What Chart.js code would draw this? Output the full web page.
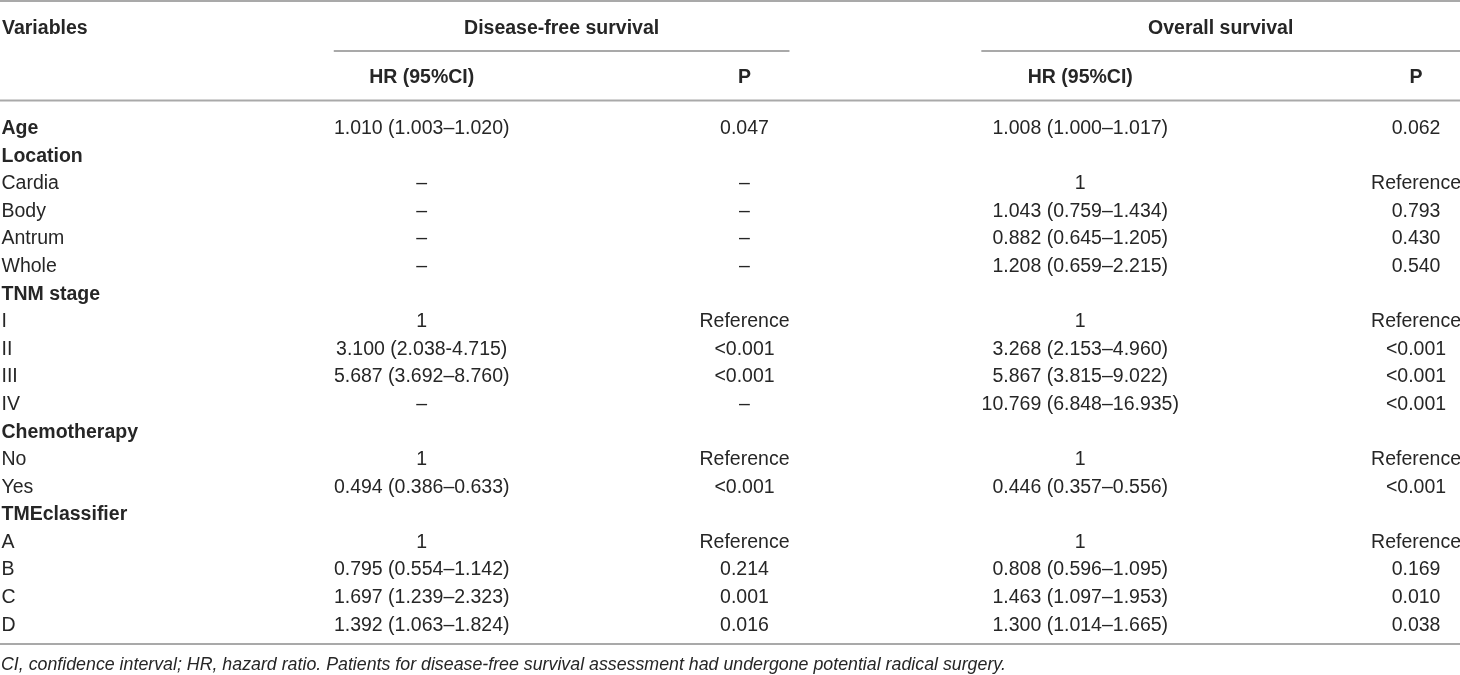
<!DOCTYPE html>
<html>
<head>
<meta charset="utf-8">
<title>Cox regression – TMEclassifier</title>
<script src="https://cdn.jsdelivr.net/npm/chart.js"></script>
<style>
    html, body { margin: 0; padding: 0; background: #fff; }
    #wrap { width: 1460px; height: 675px; position: relative; }
</style>
</head>
<body>
<div id="wrap"><canvas id="tableChart"></canvas></div>
<script>
    // table content
    const rowLabels = ['Age', 'Location', 'Cardia', 'Body', 'Antrum', 'Whole', 'TNM stage', 'I', 'II', 'III', 'IV',
        'Chemotherapy', 'No', 'Yes', 'TMEclassifier', 'A', 'B', 'C', 'D'];
    const boldRows = ['Age', 'Location', 'TNM stage', 'Chemotherapy', 'TMEclassifier'];

    const dfsHR = ['1.010 (1.003–1.020)', '', '–', '–', '–', '–', '', '1', '3.100 (2.038-4.715)', '5.687 (3.692–8.760)', '–',
        '', '1', '0.494 (0.386–0.633)', '', '1', '0.795 (0.554–1.142)', '1.697 (1.239–2.323)', '1.392 (1.063–1.824)'];
    const dfsP = ['0.047', '', '–', '–', '–', '–', '', 'Reference', '<0.001', '<0.001', '–',
        '', 'Reference', '<0.001', '', 'Reference', '0.214', '0.001', '0.016'];
    const osHR = ['1.008 (1.000–1.017)', '', '1', '1.043 (0.759–1.434)', '0.882 (0.645–1.205)', '1.208 (0.659–2.215)', '', '1',
        '3.268 (2.153–4.960)', '5.867 (3.815–9.022)', '10.769 (6.848–16.935)',
        '', '1', '0.446 (0.357–0.556)', '', '1', '0.808 (0.596–1.095)', '1.463 (1.097–1.953)', '1.300 (1.014–1.665)'];
    const osP = ['0.062', '', 'Reference', '0.793', '0.430', '0.540', '', 'Reference', '<0.001', '<0.001', '<0.001',
        '', 'Reference', '<0.001', '', 'Reference', '0.169', '0.010', '0.038'];

    const firstHeader = 'Variables';
    const groupHeaders = ['Disease-free survival', 'Overall survival'];
    const colHeaders = ['HR (95%CI)', 'P', 'HR (95%CI)', 'P'];
    const footnote = 'CI, confidence interval; HR, hazard ratio. Patients for disease-free survival assessment had undergone potential radical surgery.';

    const columns = [dfsHR, dfsP, osHR, osP];

    // layout
    const FONT = "'Liberation Sans', Arial, Helvetica, sans-serif";
    const TEXT = '#262626';
    const RULE = '#a9a9a9';
    const colCenters = [421, 744, 1080, 1416];
    const groupSpans = [[333, 789], [981, 1460]];

    const tablePlugin = {
        id: 'tablePlugin',
        afterDraw(chart) {
            const ctx = chart.ctx;
            const x = chart.scales.x;
            const y = chart.scales.y;
            const W = chart.width;

            ctx.save();
            ctx.fillStyle = TEXT;
            ctx.textBaseline = 'middle';

            // header rows
            ctx.font = 'bold 19.5px ' + FONT;
            ctx.textAlign = 'left';
            ctx.fillText(firstHeader, 2, 29);
            ctx.textAlign = 'center';
            groupHeaders.forEach((h, i) => {
                const s = groupSpans[i];
                ctx.fillText(h, x.getPixelForValue((s[0] + s[1]) / 2), 29);
            });
            colHeaders.forEach((h, i) => {
                ctx.fillText(h, x.getPixelForValue(colCenters[i]), 78);
            });

            // cells
            ctx.font = '19.5px ' + FONT;
            columns.forEach((col, c) => {
                const px = x.getPixelForValue(colCenters[c]);
                col.forEach((v, r) => {
                    if (v) ctx.fillText(v, px, y.getPixelForValue(r));
                });
            });

            // rules
            ctx.strokeStyle = RULE;
            ctx.lineWidth = 2;
            const hline = (x0, x1, yy) => {
                ctx.beginPath();
                ctx.moveTo(x0, yy);
                ctx.lineTo(x1, yy);
                ctx.stroke();
            };
            hline(0, W, 1);
            groupSpans.forEach(s => hline(x.getPixelForValue(s[0]), x.getPixelForValue(s[1]), 51));
            hline(0, W, 100.5);
            hline(0, W, 644);

            // footnote
            ctx.font = 'italic 17.8px ' + FONT;
            ctx.textAlign = 'left';
            ctx.fillText(footnote, 1, 665);
            ctx.restore();
        }
    };

    new Chart(document.getElementById('tableChart'), {
        type: 'scatter',
        data: { datasets: [] },
        options: {
            responsive: true,
            maintainAspectRatio: false,
            animation: false,
            events: [],
            layout: { padding: { left: 0, right: 0, top: 115, bottom: 36 } },
            plugins: { legend: { display: false }, tooltip: { enabled: false } },
            scales: {
                x: { type: 'linear', display: false, min: 0, max: 1460 },
                y: {
                    type: 'category',
                    labels: rowLabels,
                    offset: true,
                    grid: { display: false, drawTicks: false },
                    border: { display: false },
                    ticks: {
                        mirror: true,
                        padding: 0.5,
                        autoSkip: false,
                        color: TEXT,
                        font: (c) => ({
                            family: FONT,
                            size: 19.5,
                            weight: boldRows.includes(rowLabels[c.index]) ? 'bold' : 'normal'
                        })
                    }
                }
            }
        },
        plugins: [tablePlugin]
    });
</script>
</body>
</html>
